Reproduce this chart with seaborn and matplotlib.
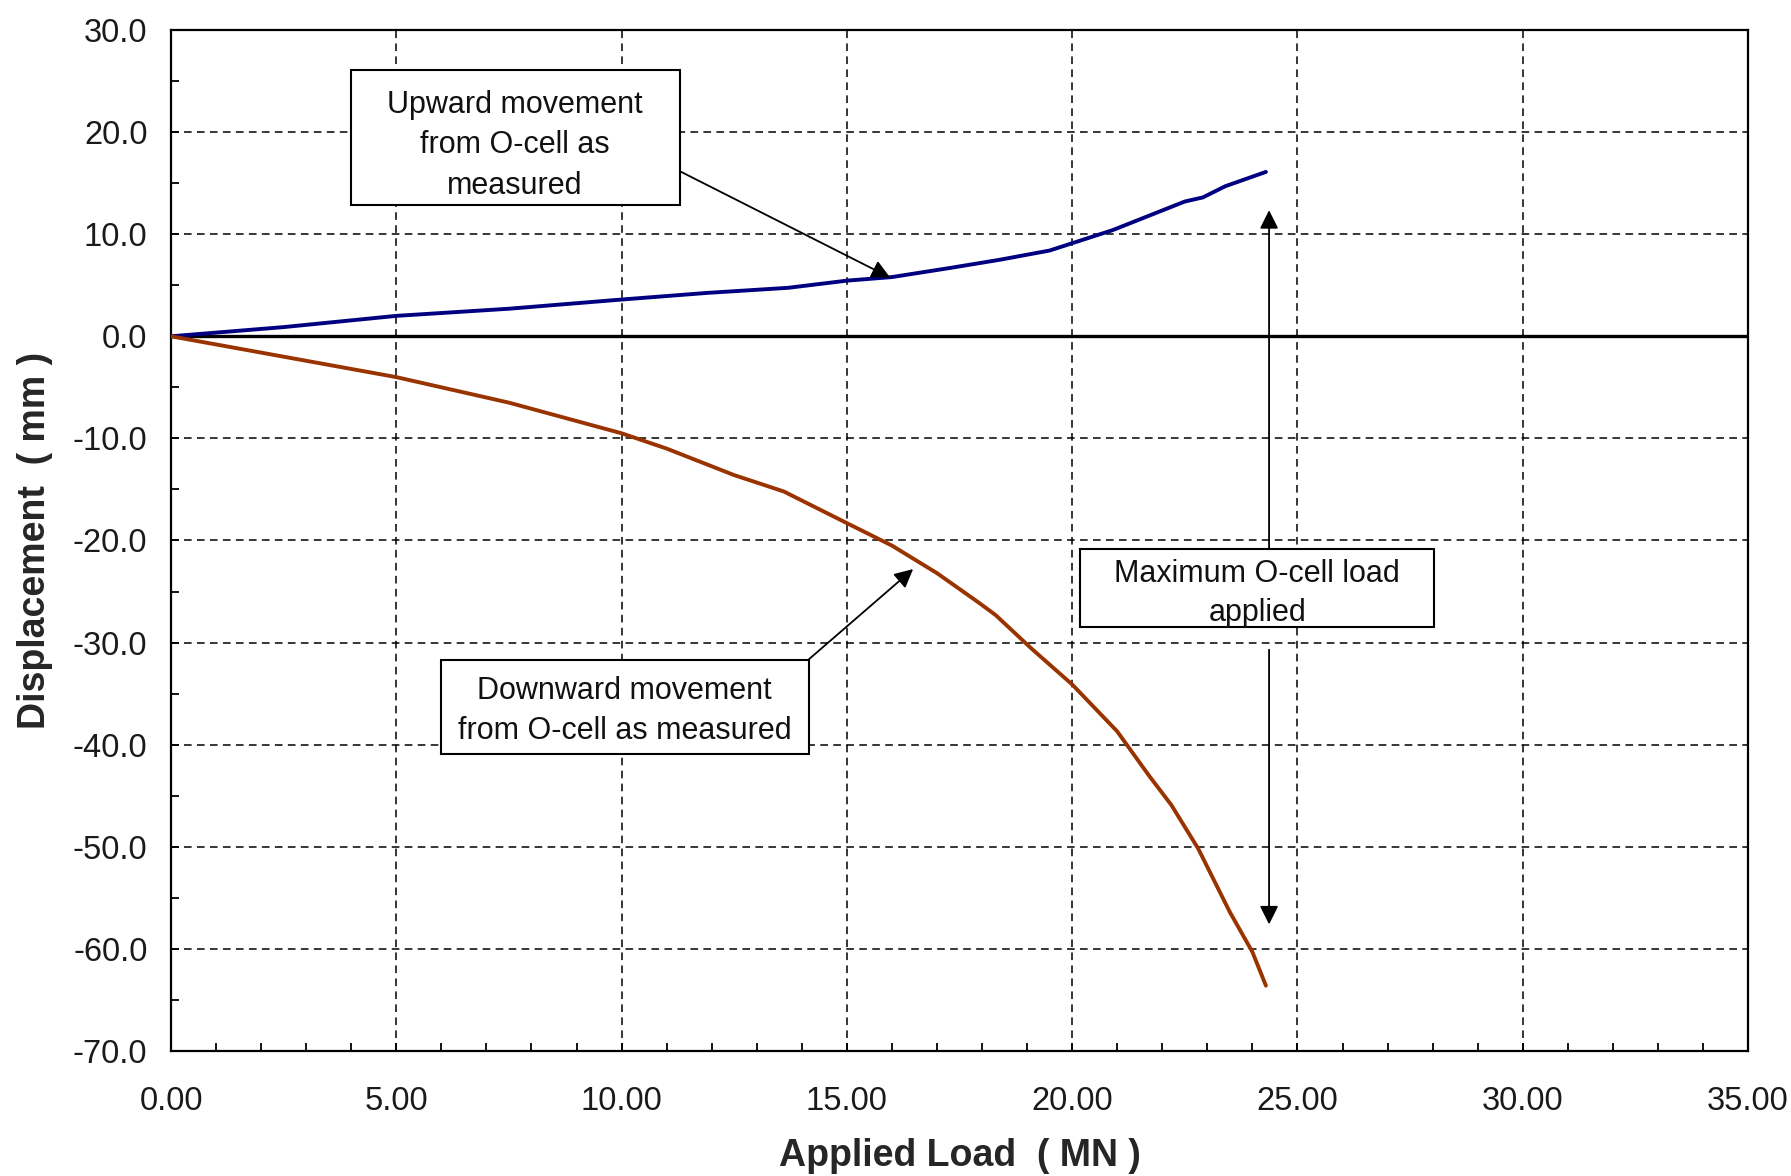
import numpy as np
import pandas as pd
import matplotlib
matplotlib.use('Agg')
import matplotlib.pyplot as plt
from matplotlib.ticker import MultipleLocator, FormatStrFormatter
from matplotlib.patches import Rectangle
import seaborn as sns

## Upward movement of O-cell (load MN, displacement mm)
up_load = [0, 2.5, 5, 7.5, 10, 11.9, 13.7, 15, 16, 17.3, 18.4, 19.5, 20.9, 21.7, 22.5, 22.9, 23.4, 24.3]
up_disp = [0, 0.9, 2.0, 2.7, 3.6, 4.25, 4.75, 5.45, 5.8, 6.7, 7.5, 8.4, 10.4, 11.8, 13.2, 13.6, 14.7, 16.1]

## Downward movement of O-cell
down_load = [0, 2.5, 5, 7.5, 10, 11, 12.5, 13.6, 15, 16, 17, 17.9, 18.3, 19.1,
             20, 21, 21.7, 22.2, 22.8, 23.5, 24, 24.3]
down_disp = [0, -2.0, -4.0, -6.5, -9.5, -11.0, -13.6, -15.2, -18.3, -20.5, -23.2, -26.0, -27.3, -30.6,
             -34.1, -38.7, -43.0, -45.9, -50.2, -56.4, -60.3, -63.6]

series_colors = {'Upward': '#000080', 'Downward': '#993300'}

df = pd.concat([
    pd.DataFrame({'load': up_load, 'disp': up_disp, 'series': 'Upward'}),
    pd.DataFrame({'load': down_load, 'disp': down_disp, 'series': 'Downward'}),
])

sns.set_style('ticks')
plt.rcParams['font.family'] = ['Liberation Sans', 'DejaVu Sans']
plt.rcParams['axes.unicode_minus'] = False

fig = plt.figure(figsize=(17.91, 11.76), dpi=100)
ax = fig.add_axes([0.0955, 0.1063, 0.8805, 0.8682])

sns.lineplot(data=df, x='load', y='disp', hue='series', palette=series_colors,
             estimator=None, sort=False, lw=2.8, legend=False, ax=ax, zorder=4)

ax.set_xlim(0, 35)
ax.set_ylim(-70, 30)
ax.xaxis.set_major_locator(MultipleLocator(5))
ax.xaxis.set_minor_locator(MultipleLocator(1))
ax.yaxis.set_major_locator(MultipleLocator(10))
ax.yaxis.set_minor_locator(MultipleLocator(5))
ax.xaxis.set_major_formatter(FormatStrFormatter('%.2f'))
ax.yaxis.set_major_formatter(FormatStrFormatter('%.1f'))

ax.tick_params(axis='both', which='both', direction='in', color='black',
               width=1.3, length=6, labelsize=23.5, labelcolor='#1a1a1a')
ax.tick_params(axis='x', pad=25)
ax.tick_params(axis='y', pad=17)

ax.grid(True, which='major', color='black', lw=1.1, linestyle=(0, (5, 3.5)))
ax.axhline(0, color='black', lw=2.4, zorder=3)

for s in ax.spines.values():
    s.set_color('black')
    s.set_linewidth(1.6)

ax.set_xlabel('Applied Load  ( MN )', fontsize=27, fontweight='bold')
ax.set_ylabel('Displacement  ( mm )', fontsize=27, fontweight='bold')
ax.xaxis.set_label_coords(0.5, -0.085)
ax.yaxis.set_label_coords(-0.075, 0.5)

## Annotation boxes and arrows
arrow_kw = dict(arrowstyle='-|>', color='black', lw=1.3, mutation_scale=28,
                shrinkA=0, shrinkB=0)
box_kw = dict(fill=True, facecolor='white', edgecolor='black', lw=1.5, zorder=5)
text_kw = dict(ha='center', va='center', fontsize=22, color='#111111', zorder=6)

ax.add_patch(Rectangle((4.0, 12.9), 7.3, 13.2, **box_kw))
ax.text(7.63, 18.7, 'Upward movement\nfrom O-cell as\nmeasured', linespacing=1.45, **text_kw)
ax.annotate('', xy=(15.96, 5.75), xytext=(11.3, 16.15), arrowprops=arrow_kw, zorder=6)

ax.add_patch(Rectangle((6.0, -40.9), 8.15, 9.2, **box_kw))
ax.text(10.07, -36.7, 'Downward movement\nfrom O-cell as measured', linespacing=1.45, **text_kw)
ax.annotate('', xy=(16.47, -22.8), xytext=(14.14, -31.7), arrowprops=arrow_kw, zorder=6)

ax.add_patch(Rectangle((20.17, -28.45), 7.85, 7.6, **box_kw))
ax.text(24.11, -25.15, 'Maximum O-cell load\napplied', linespacing=1.39, **text_kw)
ax.annotate('', xy=(24.37, 12.35), xytext=(24.37, -20.85), arrowprops=arrow_kw, zorder=6)
ax.annotate('', xy=(24.37, -57.6), xytext=(24.37, -30.7), arrowprops=arrow_kw, zorder=6)

fig.savefig('out.png', dpi=100)
